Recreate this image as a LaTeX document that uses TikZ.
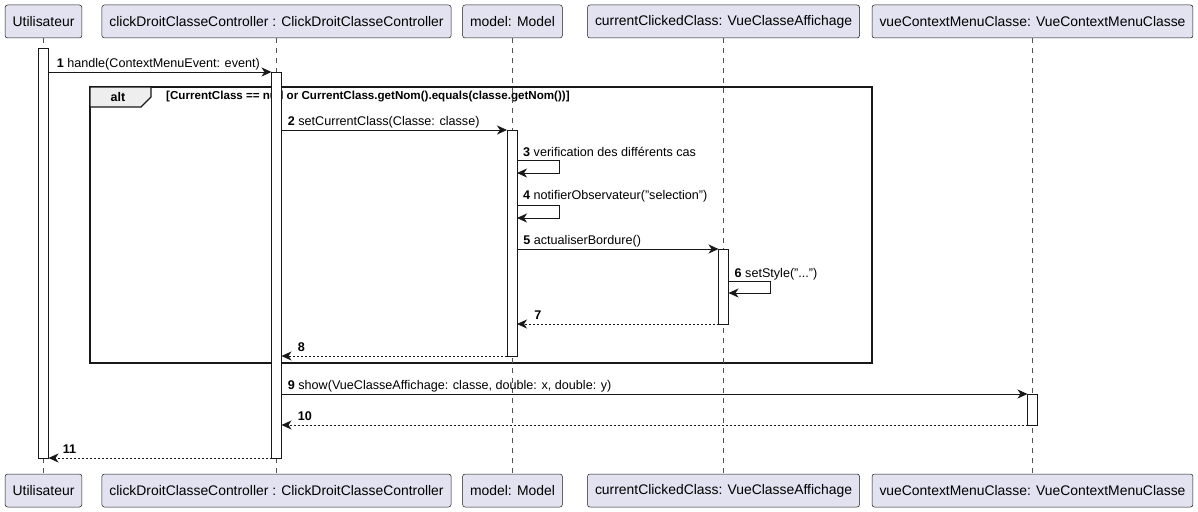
\documentclass[tikz,border=0pt]{standalone}
\usepackage{fontspec}
\setmainfont{Liberation Sans}
\usetikzlibrary{arrows.meta}
\definecolor{partfill}{HTML}{E2E2F0}
\definecolor{lineclr}{HTML}{181818}
\definecolor{tabfill}{HTML}{EEEEEE}
\tikzset{
	part/.style={draw=lineclr, fill=partfill, rounded corners=2.5pt, line width=0.5pt, minimum height=33pt, inner xsep=7.5pt, font=\fontsize{13.9}{16}\selectfont},
	life/.style={draw=lineclr!75, dash pattern=on 5pt off 5pt, line width=0.5pt},
	act/.style={draw=lineclr, fill=white, line width=0.8pt, minimum width=10pt, anchor=north, outer sep=0pt, inner sep=0pt},
	msg/.style={-{Stealth[length=10pt, width=9pt, inset=3pt]}, line width=0.8pt, draw=lineclr},
	ret/.style={msg, dash pattern=on 2pt off 2pt},
	lbl/.style={font=\fontsize{12.6}{14}\selectfont, inner sep=0pt, anchor=base west},
}
\begin{document}
\begin{tikzpicture}[x=1pt, y=-1pt]
			\useasboundingbox (0,0) rectangle (1198,511);
			
			% alt frame
			\draw[lineclr, line width=1.3pt] (90,87) rectangle (872,363);
			\filldraw[draw=lineclr, fill=tabfill, line width=1.3pt] (90,87) -- (151,87) -- (151,97) -- (141,107) -- (90,107) -- cycle;
			\node[font=\fontsize{12.5}{14}\selectfont\bfseries] (altlbl) at (118,97.5) {alt};
			\node[font=\fontsize{11.6}{13}\selectfont\bfseries, anchor=west, inner sep=0pt] (guard) at (166,97) {[CurrentClass == null or CurrentClass.getNom().equals(classe.getNom())]};
			
			% participants
			\node[part] (uT) at (43.5,21.5) {Utilisateur};
			\node[part] (cT) at (276.5,21.5) {clickDroitClasseController : ClickDroitClasseController};
			\node[part] (mT) at (512.5,21.5) {model: Model};
			\node[part] (vT) at (723.5,21.5) {currentClickedClass: VueClasseAffichage};
			\node[part] (wT) at (1032.5,21.5) {vueContextMenuClasse: VueContextMenuClasse};
			\node[part] (uB) at (43.5,490.5) {Utilisateur};
			\node[part] (cB) at (276.5,490.5) {clickDroitClasseController : ClickDroitClasseController};
			\node[part] (mB) at (512.5,490.5) {model: Model};
			\node[part] (vB) at (723.5,490.5) {currentClickedClass: VueClasseAffichage};
			\node[part] (wB) at (1032.5,490.5) {vueContextMenuClasse: VueContextMenuClasse};
			\foreach \p in {u, c, m, v, w}
				\draw[life] (\p T.south) -- (\p B.north);
			
			% activations
			\node[act, minimum height=410pt] (aU) at (43.5,48) {};
			\node[act, minimum height=386pt] (aC) at (276.5,72) {};
			\node[act, minimum height=226pt] (aM) at (512,130) {};
			\node[act, minimum height=75pt] (aV) at (723.5,249) {};
			\node[act, minimum height=31pt] (aW) at (1032.5,394) {};
			
			% messages
			\draw[msg] (aU.east |- aC.north) -- (aC.north west)
				node[lbl, pos=0, xshift=8pt, yshift=5pt] {\textbf{1} handle(ContextMenuEvent: event)};
			\draw[msg] (aC.east |- aM.north) -- (aM.north west)
				node[lbl, pos=0, xshift=6pt, yshift=5pt] {\textbf{2} setCurrentClass(Classe: classe)};
			\coordinate (s3) at (0,160);
			\draw[msg] (aM.east |- s3) -- ++(42,0) -- ++(0,13) -- ++(-42,0);
			\node[lbl] (l3) at ([xshift=6pt, yshift=4pt]aM.east |- s3) {\textbf{3} verification des différents cas};
			\coordinate (s4) at (0,205);
			\draw[msg] (aM.east |- s4) -- ++(42,0) -- ++(0,13) -- ++(-42,0);
			\node[lbl] (l4) at ([xshift=6pt, yshift=6pt]aM.east |- s4) {\textbf{4} notifierObservateur("selection")};
			\draw[msg] (aM.east |- aV.north) -- (aV.north west)
				node[lbl, pos=0, xshift=6pt, yshift=5pt] {\textbf{5} actualiserBordure()};
			\coordinate (s6) at (0,281);
			\draw[msg] (aV.east |- s6) -- ++(42,0) -- ++(0,12) -- ++(-42,0);
			\node[lbl] (l6) at ([xshift=6pt, yshift=4pt]aV.east |- s6) {\textbf{6} setStyle("...")};
			\draw[ret] (aV.south west) -- (aM.east |- aV.south)
				node[lbl, pos=1, xshift=17pt, yshift=5pt] {\textbf{7}};
			\draw[ret] (aM.south west) -- (aC.east |- aM.south)
				node[lbl, pos=1, xshift=16pt, yshift=5pt] {\textbf{8}};
			\draw[msg] (aC.east |- aW.north) -- (aW.north west)
				node[lbl, pos=0, xshift=6pt, yshift=5pt] {\textbf{9} show(VueClasseAffichage: classe, double: x, double: y)};
			\draw[ret] (aW.south west) -- (aC.east |- aW.south)
				node[lbl, pos=1, xshift=16pt, yshift=5pt] {\textbf{10}};
			\draw[ret] (aC.south west) -- (aU.east |- aC.south)
				node[lbl, pos=1, xshift=14pt, yshift=5pt] {\textbf{11}};
\end{tikzpicture}
\end{document}
